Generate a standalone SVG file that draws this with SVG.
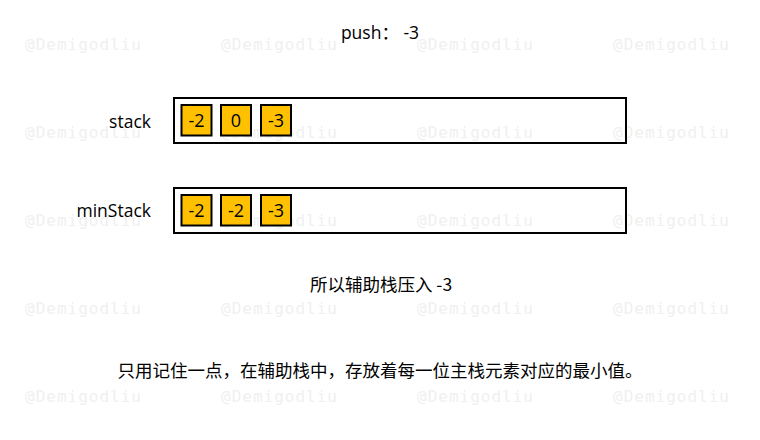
<svg xmlns="http://www.w3.org/2000/svg" width="760" height="440" viewBox="0 0 760 440">
<style>
.wm{font-family:"DejaVu Sans Mono",monospace;font-size:16px;letter-spacing:1px;fill:#f0f0f0}
.t{font-family:"Open Sans","Noto Sans CJK SC",sans-serif;font-size:17.5px;fill:#000}
.c{font-family:"Noto Sans CJK SC","Open Sans",sans-serif;font-size:17.5px;fill:#000}
.outer{fill:none;stroke:#000;stroke-width:2}
.cell{fill:#FFC000;stroke:#000;stroke-width:2}
.n{font-family:"Open Sans","Noto Sans",sans-serif;font-size:18px;fill:#000;text-anchor:middle}
</style>
<rect width="760" height="440" fill="#fff"/>
<g id="watermarks">
<text class="wm" x="25" y="50">@Demigodliu</text><text class="wm" x="221" y="50">@Demigodliu</text><text class="wm" x="417" y="50">@Demigodliu</text><text class="wm" x="613" y="50">@Demigodliu</text>
<text class="wm" x="25" y="138">@Demigodliu</text><text class="wm" x="221" y="138">@Demigodliu</text><text class="wm" x="417" y="138">@Demigodliu</text><text class="wm" x="613" y="138">@Demigodliu</text>
<text class="wm" x="25" y="226">@Demigodliu</text><text class="wm" x="221" y="226">@Demigodliu</text><text class="wm" x="417" y="226">@Demigodliu</text><text class="wm" x="613" y="226">@Demigodliu</text>
<text class="wm" x="25" y="314">@Demigodliu</text><text class="wm" x="221" y="314">@Demigodliu</text><text class="wm" x="417" y="314">@Demigodliu</text><text class="wm" x="613" y="314">@Demigodliu</text>
<text class="wm" x="25" y="402">@Demigodliu</text><text class="wm" x="221" y="402">@Demigodliu</text><text class="wm" x="417" y="402">@Demigodliu</text><text class="wm" x="613" y="402">@Demigodliu</text>
</g>
<text id="title" class="t" x="380" y="39" text-anchor="middle">push： -3</text>
<g id="stack">
<text class="t" x="151" y="128" text-anchor="end">stack</text>
<rect class="outer" x="174" y="98" width="452" height="45"/>
<rect class="cell" x="181.5" y="105" width="30" height="30.5"/><text class="n" x="196.5" y="127">-2</text>
<rect class="cell" x="221" y="105" width="30" height="30.5"/><text class="n" x="236" y="127">0</text>
<rect class="cell" x="261" y="105" width="30" height="30.5"/><text class="n" x="276" y="127">-3</text>
</g>
<g id="minStack">
<text class="t" x="151" y="217" text-anchor="end">minStack</text>
<rect class="outer" x="174" y="188" width="452" height="45"/>
<rect class="cell" x="181.5" y="195" width="30" height="30.5"/><text class="n" x="196.5" y="217">-2</text>
<rect class="cell" x="221" y="195" width="30" height="30.5"/><text class="n" x="236" y="217">-2</text>
<rect class="cell" x="261" y="195" width="30" height="30.5"/><text class="n" x="276" y="217">-3</text>
</g>
<g id="connectors"></g>
<text id="note1" class="c" x="381" y="291" text-anchor="middle">所以辅助栈压入 -3</text>
<text id="note2" class="c" x="380" y="377" text-anchor="middle">只用记住一点，在辅助栈中，存放着每一位主栈元素对应的最小值。</text>
</svg>
